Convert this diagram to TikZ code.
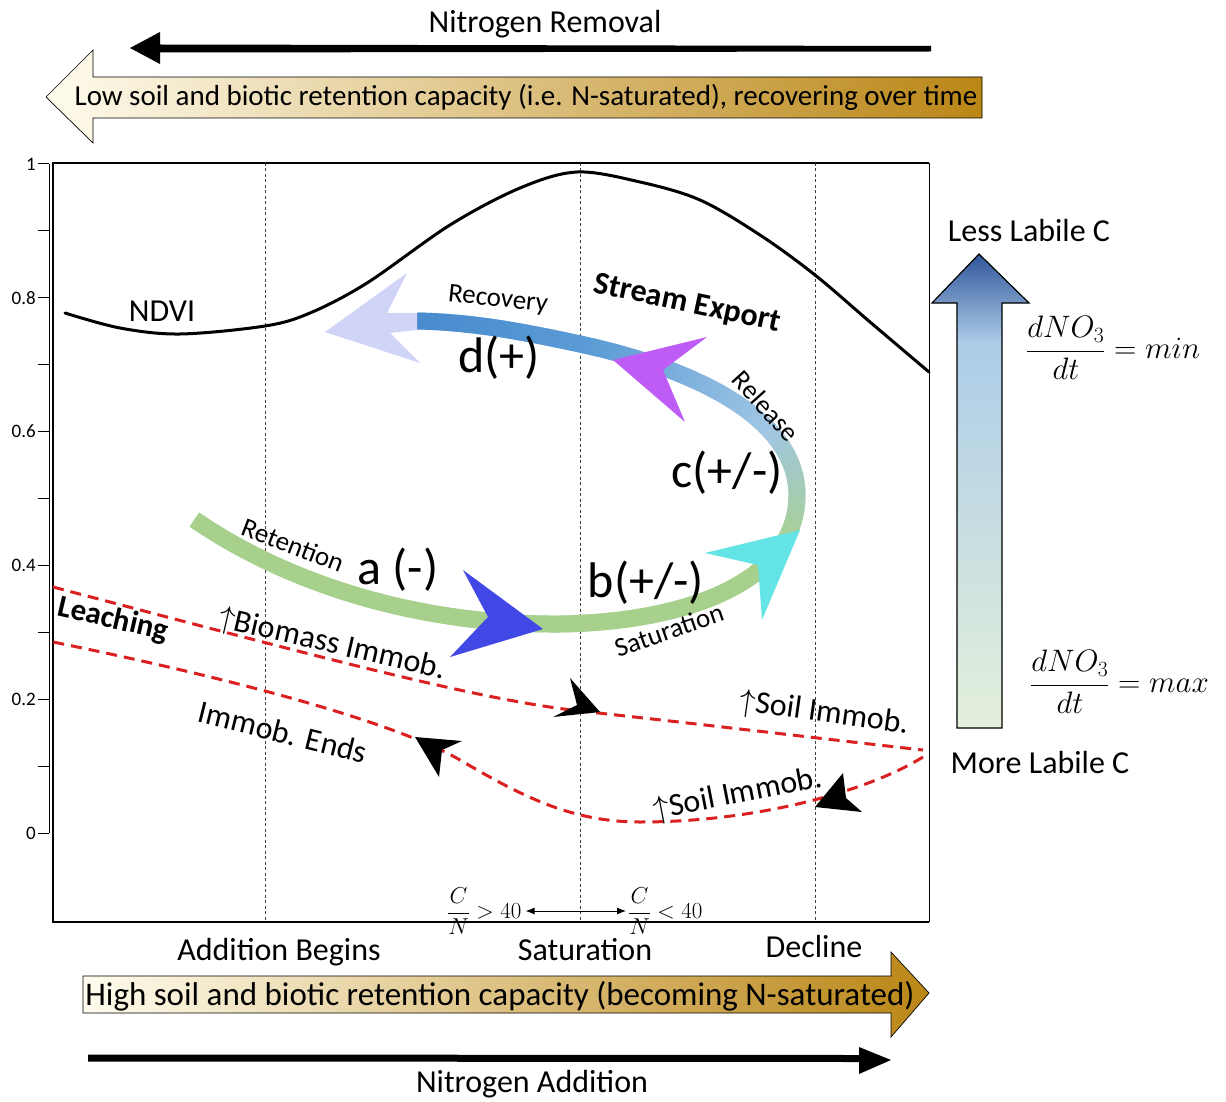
\documentclass[tikz,border=0pt]{standalone}
\usepackage{fix-cm}
\usepackage{fontspec}
\setmainfont{Carlito}
\usetikzlibrary{decorations.markings,arrows.meta}
\definecolor{bandG}{RGB}{168,208,141}
\definecolor{bandL}{RGB}{160,198,228}
\definecolor{bandB}{RGB}{91,155,213}
\definecolor{bandD}{RGB}{72,138,206}
\definecolor{lav}{RGB}{208,212,246}
\definecolor{purp}{RGB}{190,92,245}
\definecolor{cyanh}{RGB}{100,228,228}
\definecolor{blueh}{RGB}{66,72,230}
\definecolor{dred}{RGB}{218,32,32}
\definecolor{ivory}{RGB}{255,252,238}
\definecolor{goldm}{RGB}{249,222,130}
\definecolor{goldd}{RGB}{186,134,22}
\definecolor{darkb}{RGB}{46,84,152}
\definecolor{lightb}{RGB}{172,204,232}
\definecolor{paleg}{RGB}{228,240,218}
\newcommand\fsz[1]{\fontsize{#1}{#1}\selectfont}
\newcommand\bandslice{%
  \pgfmathsetmacro\bandf{\pgfkeysvalueof{/pgf/decoration/mark info/distance from start}/\pgfdecoratedpathlength}%
  \ifdim\bandf pt<0.55pt
    \colorlet{bandc}{bandG}%
  \else\ifdim\bandf pt<0.665pt
    \pgfmathsetmacro\bandq{(\bandf-0.55)/0.115*100}%
    \colorlet{bandc}{bandL!\bandq!bandG}%
  \else\ifdim\bandf pt<0.84pt
    \pgfmathsetmacro\bandq{(\bandf-0.665)/0.175*100}%
    \colorlet{bandc}{bandB!\bandq!bandL}%
  \else
    \pgfmathsetmacro\bandq{min(100,(\bandf-0.84)/0.16*100)}%
    \colorlet{bandc}{bandD!\bandq!bandB}%
  \fi\fi\fi
  \fill[bandc] (-0.8pt,-8.5pt) rectangle (0.8pt,8.5pt);%
}
\begin{document}
\begin{tikzpicture}[x=1pt,y=-1pt,
  lbl/.style={inner sep=0pt,font=\fsz{32}},
  small/.style={inner sep=0pt,font=\fsz{27}},
  big/.style={inner sep=0pt,font=\fsz{50}},
  tick/.style={inner sep=0pt,font=\fsz{19},anchor=east},
  reddash/.style={draw=dred,line width=3pt,dash pattern=on 11pt off 7pt},
  guide/.style={draw=black!75,line width=0.9pt,dash pattern=on 3pt off 2.5pt},
  gradband/.style={decorate,decoration={markings,
    mark=between positions 0 and 1 step 1pt with {\bandslice}}}]
\useasboundingbox (0,0) rectangle (1226,1102);
\fill[white] (0,0) rectangle (1226,1102);

% ---- top: nitrogen removal ----
\fill[black] (130,48)--(160,32)--(160,44.5)--(931,46)--(931,51.5)--(160,52.5)--(160,64)--cycle;
\node[lbl,anchor=base] (nrem) at (545,33) {Nitrogen Removal};
\shade[draw=black,line width=0.7pt,left color=ivory,middle color=goldm,right color=goldd]
  (46,97)--(93,50)--(93,77)--(982,77)--(982,118)--(93,118)--(93,143)--cycle;
\node[inner sep=0pt,font=\fsz{29},anchor=base] (lowtxt) at (526,106)
  {Low soil and biotic retention capacity (i.e. N-saturated), recovering over time};

% ---- axis ----
\draw[line width=1pt] (49,164) -- (49,833);
\foreach \v/\l in {0/0,1/0.2,2/0.4,3/0.6,4/0.8,5/1} {
  \draw[line width=1pt] (38,{833-\v*133.8}) -- (49,{833-\v*133.8});
  \node[tick] (tk\v) at (36,{833-\v*133.8}) {\l};
}
\foreach \v in {0.5,1.5,2.5,3.5,4.5}
  \draw[line width=1pt] (38,{833-\v*133.8}) -- (49,{833-\v*133.8});

% ---- plot box ----
\draw[line width=1.8pt] (929,163)--(53,163)--(53,922)--(929,922);
\draw[line width=1pt] (929,163)--(929,922);
\foreach \x in {265,580,815} \draw[guide] (\x,163)--(\x,922);

% ---- NDVI ----
\draw[line width=3pt,line cap=round] plot[smooth,tension=0.55] coordinates
  {(65,313) (120,328) (180,334) (265,326) (310,313) (367,283) (450,225) (520,188)
   (577,172) (640,182) (700,200) (760,235) (815,275) (870,322) (929,372)};
\node[lbl,anchor=base] (ndvi) at (162,321) {NDVI};

% ---- main gradient band ----
\path[gradband] (195,520) .. controls (290,585) and (420,625) .. (560,624)
  .. controls (690,622) and (797,580) .. (797,495)
  .. controls (797,420) and (700,370) .. (580,344)
  .. controls (520,331) and (470,322) .. (417,321);

% arrowheads on band
\fill[lav] (325,332)--(407,273)--(387,313)--(417,313)--(417,330)--(390,333)--(420,363)--cycle;
\fill[purp] (613,360)--(707,337)--(663,370)--(685,422)--cycle;
\fill[cyanh] (800,530)--(705,553)--(758,565)--(762,620)--cycle;
\fill[blueh] (543,629)--(463,570)--(488,617)--(450,657)--cycle;

% ---- red dashed immobilisation loop ----
\draw[reddash] (53,587) .. controls (330,660) and (480,700) .. (580,711)
  .. controls (700,724) and (850,742) .. (923,750);
\draw[reddash] (923,757) .. controls (870,790) and (760,822) .. (640,822)
  .. controls (570,822) and (520,795) .. (460,760)
  .. controls (400,725) and (250,682) .. (53,642);
\fill[black] (600,712)--(570,678)--(577,705)--(553,717)--cycle;
\fill[black] (415,737)--(462,741)--(442,750)--(439,777)--cycle;
\fill[black] (815,807)--(843,773)--(846,798)--(862,812)--cycle;

% ---- labels in plot ----
\node[small,rotate=-6] (recov) at (498,300) {Recovery};
\node[lbl,font=\fsz{32}\bfseries,rotate=-12] (stream) at (687,304) {Stream Export};
\node[small,rotate=-48] (release) at (766,406) {Release};
\node[big] (dlab) at (499,358) {d(+)};
\node[big] (clab) at (727,473) {c(+/-)};
\node[small,rotate=-21] (reten) at (293,545) {Retention};
\node[big] (alab) at (398,570) {a (-)};
\node[big] (blab) at (646,583) {b(+/-)};
\node[small,rotate=19] (satur) at (669,630) {Saturation};
\node[lbl,font=\fsz{31}\bfseries,rotate=-13] (leach) at (113,620) {Leaching};
\node[lbl,rotate=-13] (biom) at (332,645) {$\uparrow$Biomass Immob.};
\node[lbl,rotate=-14] (iends) at (283,732) {Immob. Ends};
\node[lbl,rotate=-8] (soil1) at (824,714) {$\uparrow$Soil Immob.};
\node[lbl,rotate=11] (soil2) at (738,795) {$\uparrow$Soil Immob.};

% ---- C/N ----
\node[inner sep=0pt,font=\fsz{23},anchor=west] (cn1) at (447,911) {$\displaystyle\frac{C}{N}>40$};
\node[inner sep=0pt,font=\fsz{23},anchor=west] (cn2) at (628,911) {$\displaystyle\frac{C}{N}<40$};
\draw[line width=0.9pt,{Latex[length=9pt,width=7pt]}-{Latex[length=9pt,width=7pt]}] ([xshift=4pt]cn1.east) -- ([xshift=-2pt]cn2.west);

% ---- bottom ----
\node[lbl,anchor=base] (addb) at (279,960) {Addition Begins};
\node[lbl,anchor=base] (satb) at (585,960) {Saturation};
\node[lbl,anchor=base] (decl) at (814,957) {Decline};
\shade[draw=black,line width=0.7pt,left color=ivory,middle color=goldm,right color=goldd]
  (83,976)--(891,976)--(891,952)--(929,993)--(891,1037)--(891,1013)--(83,1013)--cycle;
\node[inner sep=0pt,font=\fsz{33},anchor=base] (hightxt) at (500,1005)
  {High soil and biotic retention capacity (becoming N-saturated)};
\fill[black] (88,1054.5)--(859,1055)--(859,1047)--(891,1060)--(859,1074)--(859,1062)--(88,1061.5)--cycle;
\node[lbl,anchor=base] (nadd) at (532,1092) {Nitrogen Addition};

% ---- right: labile C arrow ----
\begin{scope}
\clip (957,728)--(957,303)--(932,303)--(979,254)--(1029,303)--(1002,303)--(1002,728)--cycle;
\shade[top color=darkb,bottom color=lightb] (928,252) rectangle (1032,342);
\shade[top color=lightb,bottom color=paleg] (928,341) rectangle (1032,730);
\end{scope}
\draw[line width=1.2pt,line join=miter] (957,728)--(957,303)--(932,303)--(979,254)--(1029,303)--(1002,303)--(1002,728)--cycle;
\node[lbl,anchor=base] (lessc) at (1029,241) {Less Labile C};
\node[lbl,anchor=base] (morec) at (1040,773) {More Labile C};
\node[inner sep=0pt,font=\fsz{31},anchor=west] (dmin) at (1026,348) {$\displaystyle\frac{dNO_3}{dt}=min$};
\node[inner sep=0pt,font=\fsz{31},anchor=west] (dmax) at (1030,682) {$\displaystyle\frac{dNO_3}{dt}=max$};
\end{tikzpicture}
\end{document}
